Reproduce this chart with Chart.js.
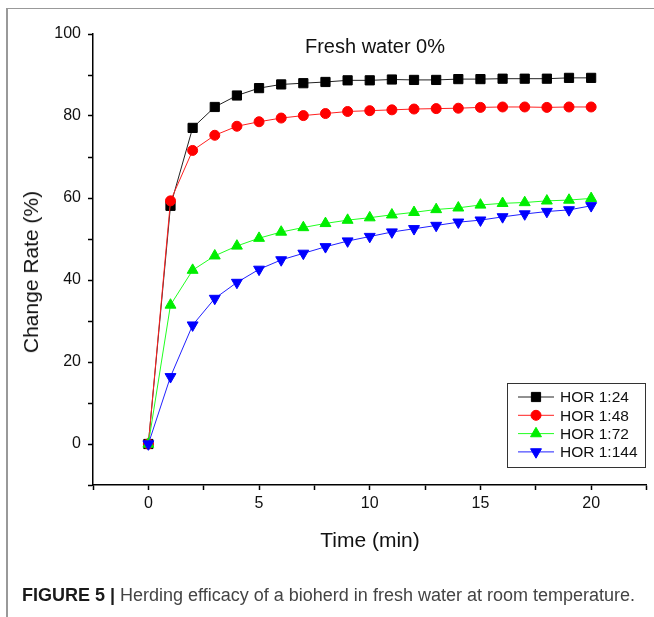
<!DOCTYPE html>
<html>
<head>
<meta charset="utf-8">
<script src="https://cdn.jsdelivr.net/npm/chart.js@4"></script>
<style>
  body { margin: 0; background: #fff; }
  #wrap { position: relative; width: 654px; height: 617px; overflow: hidden; font-family: "Liberation Sans", Arial, sans-serif; }
  #frame { position: absolute; left: 6px; top: 8px; width: 700px; height: 700px; border-left: 2px solid #999; border-top: 1px solid #999; }
  canvas { position: absolute; left: 0; top: 0; }
  .txt { position: absolute; white-space: nowrap; color: #111; }
  #title { left: 375px; top: 46px; font-size: 20px; transform: translate(-50%, -50%); }
  #ytitle { left: 31px; top: 272px; font-size: 21px; transform: translate(-50%, -50%) rotate(-90deg); }
  #xtitle { left: 370px; top: 540px; font-size: 21px; transform: translate(-50%, -50%); }
  #caption { left: 22px; top: 595px; font-size: 18px; color: #444; transform: translateY(-50%); }
  #caption b { color: #1a1a1a; }
</style>
</head>
<body>
<div id="wrap">
  <div id="frame"></div>
  <canvas id="chart" width="654" height="617"></canvas>
  <div class="txt" id="title">Fresh water 0%</div>
  <div class="txt" id="ytitle">Change Rate (%)</div>
  <div class="txt" id="xtitle">Time (min)</div>
  <div class="txt" id="caption"><b>FIGURE 5 |</b> Herding efficacy of a bioherd in fresh water at room temperature.</div>
</div>
<script>
// data
const times = [0, 1, 2, 3, 4, 5, 6, 7, 8, 9, 10, 11, 12, 13, 14, 15, 16, 17, 18, 19, 20];
const hor24 = [0, 58.1, 77.1, 82.2, 85.0, 86.8, 87.7, 88.0, 88.3, 88.7, 88.7, 88.9, 88.8, 88.8, 89.0, 89.0, 89.1, 89.1, 89.1, 89.3, 89.3];
const hor48 = [0, 59.3, 71.6, 75.3, 77.5, 78.6, 79.5, 80.1, 80.6, 81.1, 81.3, 81.5, 81.7, 81.8, 81.9, 82.1, 82.2, 82.2, 82.1, 82.2, 82.2];
const hor72 = [0, 33.9, 42.4, 45.9, 48.3, 50.2, 51.7, 52.8, 53.8, 54.6, 55.2, 55.9, 56.5, 57.2, 57.6, 58.3, 58.7, 58.9, 59.3, 59.5, 59.9];
const hor144 = [0, 16.4, 29.0, 35.5, 39.4, 42.6, 44.9, 46.5, 48.1, 49.5, 50.6, 51.7, 52.5, 53.3, 54.1, 54.6, 55.4, 56.1, 56.7, 57.1, 58.1];
const seriesNames = ["HOR 1:24", "HOR 1:48", "HOR 1:72", "HOR 1:144"];
const yTicks = [0, 20, 40, 60, 80, 100];
const xTicks = [0, 5, 10, 15, 20];

const toPts = arr => times.map((t, i) => ({ x: t, y: arr[i] }));

const styles = [
  { color: "#000000", line: "#222222", shape: "rect", r: 6.5, rot: 0 },
  { color: "#ff0000", line: "#ff2020", shape: "circle", r: 5, rot: 0 },
  { color: "#00ee00", line: "#20ff20", shape: "triangle", r: 6.3, rot: 0 },
  { color: "#0000ff", line: "#2020ff", shape: "triangle", r: 6.3, rot: 180 },
];
const allSeries = [hor24, hor48, hor72, hor144];

const datasets = allSeries.map((s, i) => ({
  label: seriesNames[i],
  data: toPts(s),
  borderColor: styles[i].line,
  borderWidth: 1,
  backgroundColor: styles[i].color,
  pointBackgroundColor: styles[i].color,
  pointBorderColor: styles[i].color,
  pointBorderWidth: 1,
  pointStyle: styles[i].shape,
  pointRadius: styles[i].r,
  pointRotation: styles[i].rot,
  order: 4 - i,
  tension: 0,
}));

// legend box inside the plot, bottom right
const boxLegend = {
  id: "boxLegend",
  afterDatasetsDraw(chart) {
    const ctx = chart.ctx;
    ctx.save();
    ctx.strokeStyle = "#333";
    ctx.lineWidth = 1;
    ctx.strokeRect(507.5, 383.5, 138, 84);
    ctx.font = "15.5px 'Liberation Sans', Arial, sans-serif";
    ctx.textBaseline = "middle";
    styles.forEach((st, i) => {
      const y = 397 + i * 18.3;
      ctx.strokeStyle = st.line;
      ctx.beginPath();
      ctx.moveTo(518, y);
      ctx.lineTo(554, y);
      ctx.stroke();
      ctx.fillStyle = st.color;
      ctx.strokeStyle = st.color;
      Chart.helpers.drawPoint(ctx, { pointStyle: st.shape, radius: st.r, rotation: st.rot, borderWidth: 1 }, 536, y);
      ctx.fillStyle = "#111";
      ctx.fillText(seriesNames[i], 560, y + 1);
    });
    ctx.restore();
  },
};

new Chart(document.getElementById("chart"), {
  type: "line",
  data: { datasets: datasets },
  plugins: [boxLegend],
  options: {
    responsive: false,
    animation: false,
    layout: { padding: { top: 34, right: 4, left: 0, bottom: 0 } },
    plugins: { legend: { display: false }, tooltip: { enabled: false } },
    scales: {
      x: {
        type: "linear",
        min: -2.5,
        max: 22.5,
        afterFit: s => { s.height = 132; },
        ticks: {
          stepSize: 2.5,
          autoSkip: false,
          maxRotation: 0,
          padding: 4,
          color: "#111",
          font: { family: "'Liberation Sans', Arial, sans-serif", size: 16 },
          callback: v => (xTicks.includes(v) ? v : ""),
        },
        grid: { drawOnChartArea: false, drawTicks: true, tickLength: 5, tickColor: "#000", tickWidth: 1.5 },
        border: { color: "#000", width: 1.5 },
      },
      y: {
        min: -10,
        max: 100,
        afterFit: s => { s.width = 93; },
        ticks: {
          stepSize: 10,
          autoSkip: false,
          padding: 7,
          color: "#111",
          font: { family: "'Liberation Sans', Arial, sans-serif", size: 16 },
          callback: v => (yTicks.includes(v) ? v : ""),
        },
        grid: { drawOnChartArea: false, drawTicks: true, tickLength: 5, tickColor: "#000", tickWidth: 1.5 },
        border: { color: "#000", width: 1.5 },
      },
    },
  },
});
</script>
</body>
</html>
